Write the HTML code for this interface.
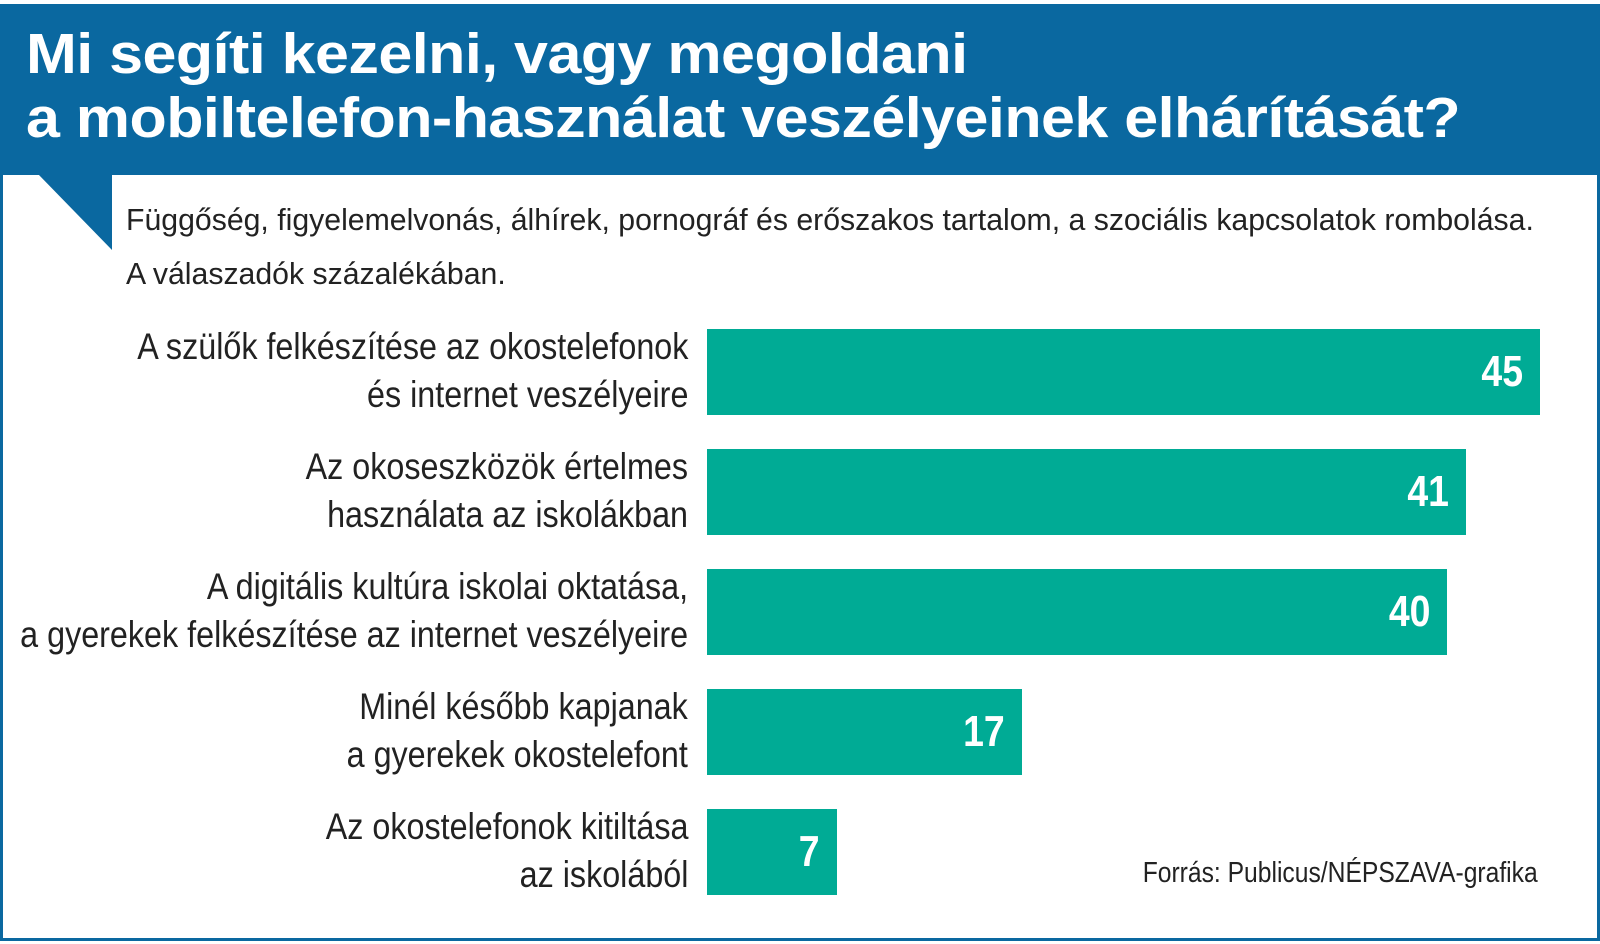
<!DOCTYPE html>
<html><head><meta charset="utf-8">
<style>
body{margin:0;width:1600px;height:944px;background:#fff;overflow:hidden;position:relative;font-family:"Liberation Sans Narrow","Liberation Sans",sans-serif}
#frame{position:absolute;left:0;top:4px;width:1594px;height:934px;border:3px solid #0a68a0;border-top:none}
#header{position:absolute;left:0;top:4px;width:1600px;height:171px;background:#0a68a0}
#title{position:absolute;left:26px;top:22px;color:#fff;font-family:"Liberation Sans",sans-serif;font-weight:bold;font-size:57px;line-height:64px;letter-spacing:-0.5px;white-space:nowrap;transform:scaleX(1.07);transform-origin:left top}
.sub{position:absolute;left:126px;font-size:31px;color:#222;white-space:nowrap;transform:scaleX(0.975);transform-origin:left top}
.lab{position:absolute;right:912px;text-align:right;font-size:37px;line-height:48px;color:#222;white-space:nowrap;transform:scaleX(0.873);transform-origin:right top}
.bar{position:absolute;height:86px;background:#00ab95}
.val{position:absolute;color:#fff;font-weight:bold;font-size:44px;line-height:86px;text-align:right;transform:scaleX(0.85);transform-origin:right top}
#src{position:absolute;right:62px;top:857px;font-size:29px;color:#222;white-space:nowrap;transform:scaleX(0.85);transform-origin:right top}
</style></head><body>
<div id="frame"></div>
<div id="header"></div>
<svg style="position:absolute;left:0;top:0" width="200" height="260"><polygon points="38,174 112,174 112,250" fill="#0a68a0"/></svg>
<div id="title">Mi segíti kezelni, vagy megoldani<br>a mobiltelefon-használat veszélyeinek elhárítását?</div>
<div class="sub" style="top:202px">Függőség, figyelemelvonás, álhírek, pornográf és erőszakos tartalom, a szociális kapcsolatok rombolása.</div>
<div class="sub" style="top:256px">A válaszadók százalékában.</div>
<div id="chart"></div>
<div id="src">Forrás: Publicus/NÉPSZAVA-grafika</div>
<script>
const categories=[["A szülők felkészítése az okostelefonok","és internet veszélyeire"],["Az okoseszközök értelmes","használata az iskolákban"],["A digitális kultúra iskolai oktatása,","a gyerekek felkészítése az internet veszélyeire"],["Minél később kapjanak","a gyerekek okostelefont"],["Az okostelefonok kitiltása","az iskolából"]];
const values=[45,41,40,17,7];
const labels=["45","41","40","17","7"];
const x0=707,pxPer=833/45,top0=329,step=120;
function xs(v){return v*pxPer;}
function ys(i){return top0+i*step;}
const c=document.getElementById('chart');
values.forEach((v,i)=>{
 const l=document.createElement('div');l.className='lab';
 
 
 l.style.top=(ys(i)-6)+'px';l.innerHTML=categories[i].join('<br>');c.appendChild(l);
 const b=document.createElement('div');b.className='bar';
 
 
 b.style.left=x0+'px';b.style.top=ys(i)+'px';b.style.width=xs(v)+'px';c.appendChild(b);
 const t=document.createElement('div');t.className='val';
 
 
 t.style.left=x0+'px';t.style.width=(xs(v)-17)+'px';t.style.top=ys(i)+'px';t.textContent=labels[i];c.appendChild(t);
});
</script>
</body></html>
